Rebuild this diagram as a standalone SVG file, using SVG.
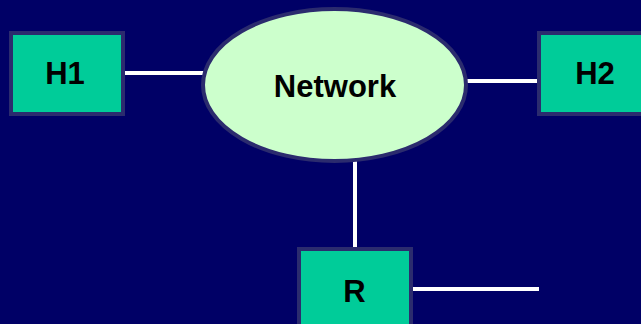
<svg xmlns="http://www.w3.org/2000/svg" width="641" height="324" viewBox="0 0 641 324">
  <style>
    .box { fill: #00cc99; stroke: #2b2b6e; stroke-width: 4; }
    .cloud { fill: #ccffcc; stroke: #2b2b6e; stroke-width: 4; }
    .label { font-family: "Liberation Sans", Arial, sans-serif; font-weight: bold; font-size: 31px; fill: #000000; text-anchor: middle; }
    .link { stroke: #ffffff; stroke-width: 4; fill: none; }
  </style>
  <rect x="0" y="0" width="641" height="324" fill="#000066"/>

  <g id="connectors">
    <line class="link" x1="123" y1="73" x2="211" y2="73"/>
    <line class="link" x1="467" y1="81" x2="539" y2="81"/>
    <line class="link" x1="355" y1="161" x2="355" y2="249"/>
    <line class="link" x1="411" y1="289" x2="539" y2="289"/>
  </g>

  <g id="network">
    <ellipse class="cloud" cx="334.5" cy="85" rx="131.5" ry="76"/>
    <text class="label" x="335" y="97">Network</text>
  </g>

  <g id="h1">
    <rect class="box" x="11" y="33" width="112" height="81"/>
    <text class="label" x="65" y="84">H1</text>
  </g>

  <g id="h2">
    <rect class="box" x="539" y="33" width="112" height="81"/>
    <text class="label" x="595" y="84">H2</text>
  </g>

  <g id="r">
    <rect class="box" x="299" y="249" width="112" height="81"/>
    <text class="label" x="354.5" y="302">R</text>
  </g>
</svg>
